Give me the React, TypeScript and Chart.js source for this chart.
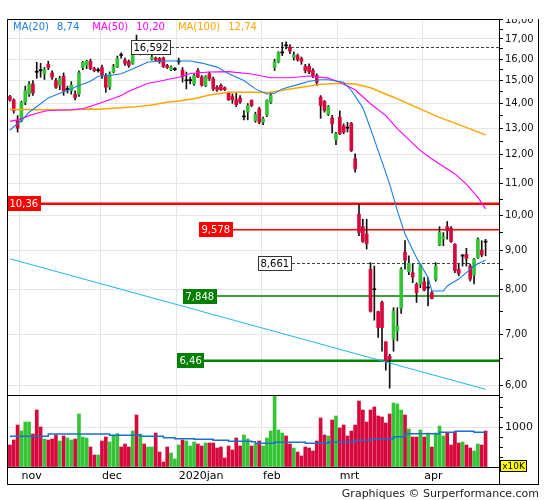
import React, { useEffect, useRef } from "react";
import { Chart, registerables } from "chart.js";

Chart.register(...registerables);

const FONT = '"DejaVu Sans", Verdana, sans-serif';
Chart.defaults.font.family = FONT;

// ---- trading days (categories) ----
const oct2019 = [29, 30, 31];
const nov2019 = [1, 4, 5, 6, 7, 8, 11, 12, 13, 14, 15, 18, 19, 20, 21, 22, 25, 26, 27, 28, 29];
const dec2019 = [2, 3, 4, 5, 6, 9, 10, 11, 12, 13, 16, 17, 18, 19, 20, 23, 24, 27, 30, 31];
const jan2020 = [2, 3, 6, 7, 8, 9, 10, 13, 14, 15, 16, 17, 20, 21, 22, 23, 24, 27, 28, 29, 30, 31];
const feb2020 = [3, 4, 5, 6, 7, 10, 11, 12, 13, 14, 17, 18, 19, 20, 21, 24, 25, 26, 27, 28];
const mar2020 = [2, 3, 4, 5, 6, 9, 10, 11, 12, 13, 16, 17, 18, 19, 20, 23, 24, 25, 26, 27, 30, 31];
const apr2020 = [1, 2, 3, 6, 7, 8, 9, 14, 15, 16, 17, 20, 21, 22, 23, 24, 27];
const monthNames = ["nov", "dec", "2020jan", "feb", "mrt", "apr"];
const emptySlots = ["pad1", "pad2", "pad3"];

// ---- OHLC ----
const opens = [
  14.30, 14.15, 13.30, 13.30, 14.05, 14.40, 14.85, 15.42, 15.50, 15.30,
  15.75, 15.35, 15.00, 14.80, 15.20, 14.60, 14.55, 14.40, 14.40, 15.60,
  15.70, 15.90, 15.55, 15.45, 15.60, 15.23, 14.72, 15.40, 15.64, 16.20,
  15.95, 15.88, 15.80, 16.60, 16.30, 16.50, 16.35, 16.00, 16.05, 16.03,
  16.05, 15.70, 15.50, 15.50, 15.87, 15.48, 14.99, 15.00, 14.85, 15.46,
  15.16, 14.78, 15.31, 15.08, 14.70, 14.78, 14.68, 14.44, 14.30, 14.16,
  14.24, 13.45, 13.64, 14.13, 13.30, 13.78, 13.24, 13.51, 14.06, 15.60,
  15.86, 16.30, 16.70, 16.59, 16.10, 16.17, 16.02, 15.66, 15.66, 15.46,
  15.23, 14.27, 14.09, 13.55, 13.41, 12.56, 13.44, 13.09, 13.02, 13.19,
  11.86, 10.04, 9.67, 9.46, 8.51, 8.02, 7.49, 7.70, 6.84, 6.55,
  6.89, 7.07, 7.57, 8.96, 8.45, 8.42, 8.13, 8.13, 8.19, 8.04,
  7.93, 8.26, 9.15, 9.32, 9.67, 9.63, 9.17, 8.51, 8.85, 8.90,
  8.59, 8.36, 8.81, 9.01, 9.25,
];
const highs = [
  14.35, 14.20, 13.50, 14.10, 14.75, 14.95, 15.00, 15.85, 15.80, 15.60,
  15.90, 15.45, 15.10, 15.20, 15.35, 14.75, 14.95, 14.55, 15.45, 15.90,
  15.95, 16.00, 15.62, 15.58, 15.72, 15.32, 15.40, 15.75, 16.15, 16.30,
  16.05, 15.95, 16.40, 17.20, 16.55, 16.60, 16.50, 16.20, 16.10, 16.08,
  16.10, 15.75, 15.68, 15.60, 16.05, 15.60, 15.39, 15.16, 15.31, 15.55,
  15.23, 15.23, 15.39, 15.16, 14.78, 14.85, 14.72, 14.49, 14.41, 14.44,
  14.34, 13.71, 14.00, 14.16, 13.64, 13.85, 13.44, 14.16, 14.49, 16.00,
  16.36, 16.82, 16.85, 16.72, 16.35, 16.25, 16.10, 15.75, 15.78, 15.55,
  15.31, 14.34, 14.13, 13.92, 13.51, 12.84, 13.69, 13.17, 13.23, 13.23,
  12.04, 10.35, 9.89, 9.89, 8.68, 8.59, 7.50, 7.73, 6.84, 6.59,
  7.58, 7.58, 8.55, 9.27, 8.86, 8.64, 8.17, 8.64, 8.30, 8.30,
  7.96, 8.68, 9.67, 9.50, 9.82, 9.67, 9.19, 8.64, 8.90, 9.06,
  8.64, 8.79, 9.35, 9.27, 9.31,
];
const lows = [
  14.10, 13.60, 12.85, 13.25, 13.95, 14.30, 14.35, 15.10, 15.15, 15.05,
  15.50, 15.05, 14.65, 14.60, 14.35, 14.45, 14.40, 14.15, 14.30, 15.50,
  15.55, 15.50, 15.40, 15.38, 15.10, 14.48, 14.60, 15.35, 15.60, 16.05,
  15.70, 15.60, 15.75, 16.30, 16.20, 16.30, 16.25, 15.95, 15.90, 15.80,
  15.60, 15.55, 15.45, 15.45, 15.75, 14.93, 14.63, 14.85, 14.78, 15.13,
  14.75, 14.73, 15.00, 14.56, 14.52, 14.56, 14.55, 14.13, 14.01, 13.87,
  14.00, 13.33, 13.33, 13.87, 13.23, 13.17, 13.14, 13.46, 14.00, 15.46,
  15.82, 16.17, 16.50, 16.26, 15.95, 15.90, 15.75, 15.35, 15.31, 15.13,
  14.78, 13.39, 13.64, 13.50, 12.82, 12.37, 12.75, 12.78, 12.85, 12.12,
  11.39, 9.41, 9.22, 9.04, 7.48, 7.30, 6.93, 6.65, 6.28, 5.95,
  6.65, 6.86, 7.45, 8.51, 8.37, 8.17, 7.70, 8.05, 7.97, 7.62,
  7.78, 8.21, 9.13, 9.13, 9.31, 9.22, 8.42, 8.34, 8.59, 8.59,
  8.21, 8.14, 8.79, 8.83, 8.86,
];
const closes = [
  14.15, 13.70, 13.00, 14.05, 14.55, 14.85, 14.45, 15.38, 15.45, 15.50,
  15.60, 15.15, 14.70, 15.10, 14.55, 14.63, 14.80, 14.25, 15.35, 15.85,
  15.90, 15.55, 15.46, 15.50, 15.25, 14.70, 15.31, 15.64, 16.03, 16.18,
  15.80, 15.69, 16.27, 16.45, 16.45, 16.40, 16.45, 16.10, 15.95, 15.88,
  15.65, 15.60, 15.62, 15.55, 15.90, 15.17, 15.01, 15.03, 15.23, 15.16,
  14.80, 15.19, 15.08, 14.63, 14.59, 14.59, 14.60, 14.16, 14.16, 13.95,
  14.06, 13.47, 13.92, 13.92, 13.55, 13.23, 13.37, 14.13, 14.34, 15.86,
  16.32, 16.32, 16.65, 16.39, 16.20, 15.97, 15.90, 15.46, 15.39, 15.23,
  14.92, 13.92, 13.71, 13.87, 13.17, 12.78, 12.78, 12.85, 13.00, 12.15,
  11.50, 9.50, 9.25, 9.19, 7.50, 8.00, 7.14, 7.14, 6.46, 6.49,
  7.50, 7.17, 8.51, 8.74, 8.66, 8.31, 7.93, 8.62, 7.99, 8.06,
  7.79, 8.59, 9.50, 9.38, 9.55, 9.25, 8.47, 8.40, 8.87, 8.79,
  8.26, 8.77, 9.31, 8.88, 9.23,
];
// volume, x10K
const volumes = [
  550, 675, 1050, 900, 1125, 1125, 825, 1425, 1000, 700,
  675, 700, 800, 650, 775, 725, 675, 700, 1325, 750,
  725, 500, 300, 300, 650, 750, 625, 800, 833, 500,
  575, 500, 900, 1300, 825, 575, 500, 500, 850, 375,
  125, 500, 350, 200, 550, 675, 650, 525, 625, 575,
  525, 600, 600, 600, 475, 500, 225, 525, 425, 725,
  525, 800, 700, 525, 575, 650, 525, 725, 900, 1775,
  925, 850, 775, 575, 475, 375, 275, 500, 475, 400,
  650, 1225, 800, 775, 1175, 1275, 975, 1050, 775, 900,
  1050, 1650, 1425, 1125, 1425, 1500, 1275, 1250, 1100, 1325,
  1600, 1575, 1425, 1300, 950, 750, 750, 925, 750, 850,
  500, 850, 1025, 775, 850, 550, 875, 600, 625, 550,
  475, 400, 575, 550, 900,
];

// ---- moving averages: [day index, value] ----
const ma20Points = [
  [0, 12.93], [3, 13.30], [5, 13.64], [8, 13.99], [10, 14.24], [13, 14.44], [16, 14.63], [18, 14.78],
  [21, 14.97], [23, 15.20], [26, 15.23], [29, 15.31], [31, 15.46], [34, 15.70], [36, 15.86], [41, 15.91],
  [44, 15.91], [47, 15.91], [50, 15.81], [54, 15.62], [57, 15.31], [61, 15.00], [64, 14.63], [67, 14.41],
  [69, 14.44], [71, 14.63], [75, 14.82], [78, 14.97], [81, 15.04], [83, 15.04], [87, 14.93], [89, 14.56],
  [92, 13.83], [94, 12.98], [96, 12.15], [99, 10.99], [101, 10.14], [103, 9.46], [106, 8.81], [109, 8.30],
  [110, 7.97], [113, 7.97], [114, 8.09], [117, 8.26], [119, 8.42], [121, 8.59], [122, 8.65], [124, 8.74],
];
const ma50Points = [
  [0, 13.27], [3, 13.37], [5, 13.50], [8, 13.64], [10, 13.71], [16, 13.74], [19, 13.78], [23, 13.99],
  [26, 14.16], [29, 14.34], [31, 14.53], [34, 14.74], [36, 14.88], [39, 14.97], [42, 15.08], [44, 15.15],
  [47, 15.32], [52, 15.39], [57, 15.41], [63, 15.30], [68, 15.13], [73, 15.13], [78, 15.21], [83, 15.11],
  [86, 14.93], [90, 14.59], [91, 14.44], [94, 13.99], [98, 13.50], [101, 12.98], [107, 12.15], [110, 11.85],
  [116, 11.33], [119, 10.99], [122, 10.56], [124, 10.20],
];
const ma100Points = [
  [0, 13.75], [8, 13.74], [15, 13.73], [20, 13.77], [23, 13.76], [28, 13.81], [32, 13.85], [37, 13.94],
  [41, 14.05], [44, 14.11], [48, 14.20], [52, 14.36], [57, 14.48], [63, 14.48], [68, 14.47], [70, 14.54],
  [76, 14.70], [81, 14.83], [86, 14.88], [90, 14.85], [94, 14.68], [100, 14.27], [106, 13.84], [112, 13.43],
  [117, 13.14], [124, 12.74],
];
const maNames = ["MA(20)", "MA(50)", "MA(100)"];
const maLastValues = [8.74, 10.2, 12.74];
const trendPoints = [[0, 8.78], [124, 5.93]];
const volAvgStarts = [0, 10, 26, 34, 40, 43, 48, 53, 57, 63, 64, 69, 77, 83, 90, 94, 100, 103, 112, 116, 121];
const volAvgValues = [767, 825, 792, 767, 733, 708, 692, 667, 642, 633, 592, 617, 592, 625, 667, 708, 758, 833, 867, 892, 867];

// ---- levels ----
const levelValues = [16.592, 10.36, 9.578, 8.661, 7.848, 6.46];

// ---- axis ticks ----
const priceMajorTicks = [6, 7, 8, 9, 10, 11, 12, 13, 14, 15, 16, 17, 18];
const priceMinorTicks = [6.5, 7.5, 8.5, 9.5, 10.5, 11.5, 12.5, 13.5, 14.5, 15.5, 16.5, 17.5];
const volumeTicks = [0, 250, 500, 750, 1000, 1250, 1500, 1750];
const volumeLabelTick = 1000;

// ---- styles ----
const GREEN = "#35c435";
const RED = "#d6083c";
const MA_COLORS = ["#1a7fe0", "#ff00ff", "#ffa500"];
const GRID = "#e6e6e6";
const levelStyles = [
  { color: "#444", width: 1, dash: true, fill: "#fff", text: "#000", border: "#333", start: 31.6 as number | null },
  { color: "#ff0000", width: 2.5, dash: false, fill: "#ff0000", text: "#fff", border: null, start: null },
  { color: "#ff0000", width: 1.5, dash: false, fill: "#ff0000", text: "#fff", border: null, start: 49.3 },
  { color: "#444", width: 1, dash: true, fill: "#fff", text: "#000", border: "#333", start: 64.7 },
  { color: "#008000", width: 1.5, dash: false, fill: "#008000", text: "#fff", border: null, start: 45.1 },
  { color: "#008000", width: 2.5, dash: false, fill: "#008000", text: "#fff", border: null, start: 43.6 },
];

const fmt = (v: number, d?: number) => (d === undefined ? String(v) : v.toFixed(d)).replace(".", ",");

const months = [oct2019, nov2019, dec2019, jan2020, feb2020, mar2020, apr2020];
const monthKeys = ["2019-10", "2019-11", "2019-12", "2020-01", "2020-02", "2020-03", "2020-04"];
const labels: string[] = [];
const monthLabelAt: Record<number, string> = {};
months.forEach((days, m) => {
  if (m > 0) monthLabelAt[labels.length] = monthNames[m - 1];
  days.forEach((d) => labels.push(`${monthKeys[m]}-${String(d).padStart(2, "0")}`));
});
const dayCount = labels.length;
emptySlots.forEach((s) => labels.push(s));

const toXY = (pts: number[][]) => pts.map(([i, v]) => ({ x: labels[i], y: v }));

export default function App() {
  const ref = useRef<HTMLCanvasElement | null>(null);

  useEffect(() => {
    const canvas = ref.current;
    if (!canvas) return;

    const isDoji = (i: number) => Math.abs(closes[i] - opens[i]) / opens[i] < 0.004;
    const bodyColors = opens.map((o, i) => (isDoji(i) ? "#000" : closes[i] >= o ? GREEN : RED));
    const volColors = opens.map((o, i) => (closes[i] >= o ? GREEN : RED));

    const volAvgData: { x: string; y: number }[] = [];
    volAvgStarts.forEach((s, k) => {
      const end = k + 1 < volAvgStarts.length ? volAvgStarts[k + 1] : dayCount - 1;
      volAvgData.push({ x: labels[s], y: volAvgValues[k] });
      volAvgData.push({ x: labels[end], y: volAvgValues[k] });
    });

    const boxW = (ctx: CanvasRenderingContext2D, t: string) => {
      ctx.font = `10px ${FONT}`;
      return Math.round(ctx.measureText(t).width + 5);
    };

    const overlay = {
      id: "overlay",
      beforeDatasetsDraw(chart: any) {
        const { ctx, chartArea, scales } = chart;
        ctx.save();
        levelValues.forEach((v, k) => {
          const st = levelStyles[k];
          const py = scales.y.getPixelForValue(v);
          const bx = st.start === null ? chartArea.left - 1 : Math.round(scales.x.getPixelForValue(st.start));
          const x0 = st.dash ? bx + boxW(ctx, fmt(v)) : bx;
          const yy = st.width === 1 ? Math.round(py) + 0.5 : py;
          ctx.beginPath();
          ctx.strokeStyle = st.color;
          ctx.lineWidth = st.width;
          ctx.setLineDash(st.dash ? [3, 2] : []);
          ctx.moveTo(x0, yy);
          ctx.lineTo(chartArea.right, yy);
          ctx.stroke();
        });
        ctx.restore();
      },
      afterDatasetsDraw(chart: any) {
        const { ctx, chartArea, scales } = chart;
        ctx.save();
        levelValues.forEach((v, k) => {
          const st = levelStyles[k];
          const t = fmt(v);
          const py = scales.y.getPixelForValue(v);
          const bx = st.start === null ? chartArea.left - 1 : Math.round(scales.x.getPixelForValue(st.start));
          const w = boxW(ctx, t);
          const h = 15;
          const by = Math.round(py - h / 2);
          ctx.fillStyle = st.fill;
          ctx.fillRect(bx, by, w, h);
          if (st.border) {
            ctx.strokeStyle = st.border;
            ctx.lineWidth = 1;
            ctx.setLineDash([]);
            ctx.strokeRect(bx + 0.5, by + 0.5, w - 1, h - 1);
          }
          ctx.fillStyle = st.text;
          ctx.font = `10px ${FONT}`;
          ctx.textAlign = "left";
          ctx.textBaseline = "middle";
          ctx.fillText(t, bx + 2.5, by + h / 2 + 0.5);
        });
        ctx.restore();
      },
      afterDraw(chart: any) {
        const { ctx, chartArea, scales } = chart;
        const W = chart.width;
        ctx.save();
        // clip region above the frame
        ctx.fillStyle = "#fff";
        ctx.fillRect(0, 0, W, chartArea.top);

        // legend
        ctx.font = `10px ${FONT}`;
        ctx.textBaseline = "alphabetic";
        ctx.textAlign = "left";
        let lx = chartArea.left + 5;
        maNames.forEach((n, k) => {
          ctx.fillStyle = MA_COLORS[k];
          ctx.fillText(n, lx, chartArea.top + 11);
          lx += ctx.measureText(n).width + 8;
          const vt = fmt(maLastValues[k], 2);
          ctx.fillText(vt, lx, chartArea.top + 11);
          lx += ctx.measureText(vt).width + 13;
        });

        // frame
        const L = chartArea.left, R = chartArea.right, T = chartArea.top, B = chartArea.bottom;
        const outerR = scales.y.right;
        const outerB = scales.x.bottom;
        const sep = scales.yv.top;
        ctx.strokeStyle = "#000";
        ctx.lineWidth = 1;
        ctx.setLineDash([]);
        const line = (x1: number, y1: number, x2: number, y2: number) => {
          ctx.beginPath();
          ctx.moveTo(x1, y1);
          ctx.lineTo(x2, y2);
          ctx.stroke();
        };
        line(L - 1, T + 0.5, R + 1, T + 0.5);
        line(L - 0.5, T, L - 0.5, outerB);
        line(L - 1, outerB - 0.5, outerR, outerB - 0.5);
        line(outerR - 0.5, T, outerR - 0.5, outerB);
        line(R + 0.5, T, R + 0.5, outerB);
        line(L, Math.round(sep) + 0.5, R, Math.round(sep) + 0.5);
        line(L, B + 0.5, R, B + 0.5);

        // x10K box
        const bx = R + 1, by = B - 7, bw = 27, bh = 12;
        ctx.fillStyle = "#ffff00";
        ctx.fillRect(bx, by, bw, bh);
        ctx.strokeRect(bx + 0.5, by + 0.5, bw - 1, bh - 1);
        ctx.fillStyle = "#000";
        ctx.font = `9px ${FONT}`;
        ctx.textAlign = "center";
        ctx.textBaseline = "middle";
        ctx.fillText("x10K", bx + bw / 2, by + bh / 2 + 0.5);

        // footer
        ctx.font = `11px ${FONT}`;
        ctx.textAlign = "right";
        ctx.textBaseline = "alphabetic";
        ctx.fillStyle = "#222";
        ctx.fillText("Graphiques \u00a9 Surperformance.com", outerR, 497);
        ctx.restore();
      },
    };

    const chart = new Chart(canvas, {
      type: "bar",
      data: {
        labels,
        datasets: [
          { type: "line", label: "volavg", data: volAvgData, yAxisID: "yv", borderColor: "#1a6fd0", borderWidth: 1.5, pointRadius: 0, order: 0 } as any,
          { type: "line", label: "MA20", data: toXY(ma20Points), yAxisID: "y", borderColor: MA_COLORS[0], borderWidth: 1.1, pointRadius: 0, order: 1 } as any,
          { type: "line", label: "MA50", data: toXY(ma50Points), yAxisID: "y", borderColor: MA_COLORS[1], borderWidth: 1.1, pointRadius: 0, order: 1 } as any,
          { type: "line", label: "MA100", data: toXY(ma100Points), yAxisID: "y", borderColor: MA_COLORS[2], borderWidth: 1.5, pointRadius: 0, order: 1 } as any,
          { type: "line", label: "trend", data: toXY(trendPoints), yAxisID: "y", borderColor: "#1fb4ec", borderWidth: 1, pointRadius: 0, order: 2 } as any,
          { type: "bar", label: "body", data: opens.map((o, i) => [o, closes[i]]), yAxisID: "y", backgroundColor: bodyColors, barThickness: 3, grouped: false, minBarLength: 1, order: 3 } as any,
          { type: "bar", label: "wick", data: lows.map((l, i) => [l, highs[i]]), yAxisID: "y", backgroundColor: "#111", barThickness: 1, grouped: false, order: 4 } as any,
          { type: "bar", label: "volume", data: volumes, yAxisID: "yv", backgroundColor: volColors, barThickness: 3, grouped: false, order: 5 } as any,
        ],
      },
      options: {
        responsive: false,
        animation: false,
        devicePixelRatio: 1,
        events: [],
        layout: { padding: { left: 8, top: 19, right: 6, bottom: 15 } },
        plugins: { legend: { display: false }, tooltip: { enabled: false } },
        scales: {
          y: {
            type: "logarithmic",
            position: "right",
            stack: "v",
            stackWeight: 376,
            min: 5.83,
            max: 18.05,
            afterBuildTicks: (s: any) => {
              s.ticks = [...priceMajorTicks, ...priceMinorTicks].sort((a, b) => a - b).map((v) => ({ value: v }));
            },
            afterFit: (s: any) => { s.width = 40; },
            ticks: {
              autoSkip: false,
              padding: 2,
              color: "#111",
              font: { size: 10 },
              callback: (v: any) => (priceMajorTicks.includes(Number(v)) ? fmt(Number(v), 2) : ""),
            },
            grid: {
              color: (c: any) => (c.tick && priceMajorTicks.includes(c.tick.value) ? GRID : "rgba(0,0,0,0)"),
              tickColor: "#000",
              tickLength: 4,
              drawTicks: true,
            },
            border: { display: false },
          } as any,
          yv: {
            type: "linear",
            position: "right",
            stack: "v",
            stackWeight: 72,
            min: 0,
            max: 1800,
            afterBuildTicks: (s: any) => { s.ticks = volumeTicks.map((v) => ({ value: v })); },
            afterFit: (s: any) => { s.width = 40; },
            ticks: {
              autoSkip: false,
              padding: 2,
              color: "#111",
              font: { size: 11 },
              callback: (v: any) => (Number(v) === volumeLabelTick ? String(volumeLabelTick) : ""),
            },
            grid: {
              color: (c: any) => (c.tick && c.tick.value === volumeLabelTick ? GRID : "rgba(0,0,0,0)"),
              tickColor: "#000",
              tickLength: 4,
            },
            border: { display: false },
          } as any,
          x: {
            type: "category",
            offset: true,
            afterFit: (s: any) => { s.height = 18; },
            ticks: {
              autoSkip: false,
              maxRotation: 0,
              minRotation: 0,
              align: "start",
              padding: 3,
              color: "#000",
              font: { size: 11 },
              callback: (_v: any, i: number) => monthLabelAt[i] ?? "",
            },
            grid: {
              offset: true,
              drawTicks: false,
              color: (c: any) => (monthLabelAt[c.index] !== undefined ? GRID : "rgba(0,0,0,0)"),
            },
            border: { display: false },
          } as any,
        },
      },
      plugins: [overlay as any],
    });

    return () => chart.destroy();
  }, []);

  return (
    <div style={{ position: "absolute", left: 0, top: 0, width: 545, height: 500, background: "#fff" }}>
      <canvas ref={ref} width={545} height={500} style={{ width: 545, height: 500, display: "block" }} />
    </div>
  );
}
